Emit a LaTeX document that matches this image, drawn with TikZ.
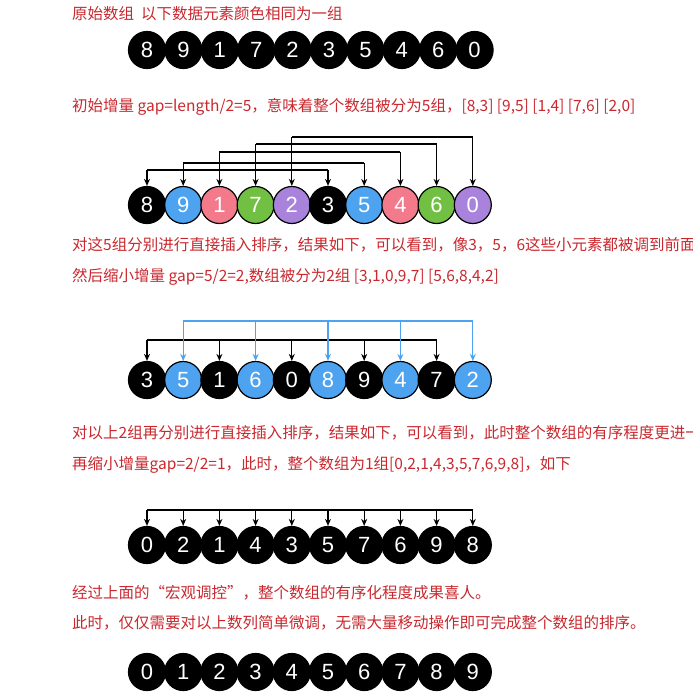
\documentclass[tikz,border=0pt]{standalone}
\usetikzlibrary{arrows.meta}
\usepackage{fontspec}
\setmainfont{Liberation Sans}
\newfontfamily\cjk{Noto Sans CJK SC}
\definecolor{tred}{HTML}{C8282E}
\definecolor{cblue}{HTML}{4DA3EF}
\definecolor{cpink}{HTML}{F27A8A}
\definecolor{cgreen}{HTML}{72C043}
\definecolor{cpurple}{HTML}{A982DC}
\begin{document}
\begin{tikzpicture}[x=1pt,y=-1pt,
  ball/.style={circle,draw=black,line width=1.2pt,minimum size=37pt,inner sep=0pt,text=white,font=\fontsize{22}{22}\selectfont},
  note/.style={anchor=west,text=tred,font=\cjk\fontsize{15.5}{17}\selectfont,inner sep=0pt},
  arr/.style={-{Stealth[length=7pt,width=6pt]},line width=1.1pt}]
\useasboundingbox (0,0) rectangle (693,696);
\node[note] (t1) at (72,14) {原始数组\ \ 以下数据元素颜色相同为一组};
\node[note] (t2) at (72,107) {初始增量 gap=length/2=5，意味着整个数组被分为5组，[8,3] [9,5] [1,4] [7,6] [2,0]};
\node[note] (t3) at (72,245) {对这5组分别进行直接插入排序，结果如下，可以看到，像3，5，6这些小元素都被调到前面了，};
\node[note] (t4) at (72,277) {然后缩小增量 gap=5/2=2,数组被分为2组 [3,1,0,9,7] [5,6,8,4,2]};
\node[note] (t5) at (72,433) {对以上2组再分别进行直接插入排序，结果如下，可以看到，此时整个数组的有序程度更进一步啦，};
\node[note] (t6) at (72,465) {再缩小增量gap=2/2=1，此时，整个数组为1组[0,2,1,4,3,5,7,6,9,8]，如下};
\node[note] (t7) at (72,593) {经过上面的“宏观调控”，整个数组的有序化程度成果喜人。};
\node[note] (t8) at (72,623) {此时，仅仅需要对以上数列简单微调，无需大量移动操作即可完成整个数组的排序。};
% row 1
\foreach \v [count=\i from 0] in {8,9,1,7,2,3,5,4,6,0}
  \node[ball,fill=black] (a\i) at (147+36.4*\i,50) {\v};
% row 2
\foreach \v/\c [count=\i from 0] in {8/black,9/cblue,1/cpink,7/cgreen,2/cpurple,3/black,5/cblue,4/cpink,6/cgreen,0/cpurple}
  \node[ball,fill=\c] (b\i) at (147+36.2*\i,205) {\v};
\foreach \i/\h in {0/170,1/163,2/152,3/144,4/137}{
  \pgfmathtruncatemacro{\j}{\i+5}
  \draw[line width=1.1pt] (b\i.north |- 0,\h) -- (b\j.north |- 0,\h);
  \draw[arr] (b\i.north |- 0,\h) -- (b\i.north);
  \draw[arr] (b\j.north |- 0,\h) -- (b\j.north);
}
% row 3
\foreach \v/\c [count=\i from 0] in {3/black,5/cblue,1/black,6/cblue,0/black,8/cblue,9/black,4/cblue,7/black,2/cblue}
  \node[ball,fill=\c] (c\i) at (147+36.2*\i,380) {\v};
\draw[line width=1.1pt] (c0.north |- 0,340) -- (c8.north |- 0,340);
\foreach \i in {0,2,4,6,8} \draw[arr] (c\i.north |- 0,340) -- (c\i.north);
\draw[line width=1.1pt,cblue] (c1.north |- 0,321) -- (c9.north |- 0,321);
\foreach \i in {1,3,5,7,9} \draw[arr,cblue] (c\i.north |- 0,321) -- (c\i.north);
% row 4
\foreach \v [count=\i from 0] in {0,2,1,4,3,5,7,6,9,8}
  \node[ball,fill=black] (d\i) at (147+36.2*\i,545) {\v};
\draw[line width=1.1pt] (d0.north |- 0,510) -- (d9.north |- 0,510);
\foreach \i in {0,...,9} \draw[arr] (d\i.north |- 0,510) -- (d\i.north);
% row 5
\foreach \v [count=\i from 0] in {0,1,2,3,4,5,6,7,8,9}
  \node[ball,fill=black] (f\i) at (147+36.2*\i,672) {\v};
\end{tikzpicture}
\end{document}
